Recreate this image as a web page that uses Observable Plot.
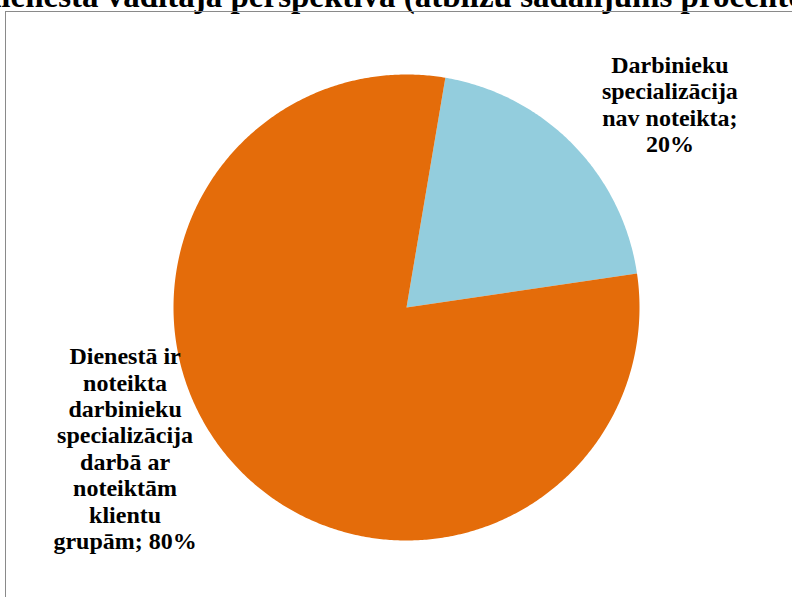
<!DOCTYPE html>
<html>
<head>
<meta charset="utf-8">
<script src="https://cdn.jsdelivr.net/npm/d3@7"></script>
<script src="https://cdn.jsdelivr.net/npm/@observablehq/plot@0.6"></script>
<style>
  html, body { margin: 0; padding: 0; background: #fff; }
  body { width: 792px; height: 597px; position: relative; overflow: hidden; }
  #title {
    position: absolute; left: -17px; top: -22px; white-space: nowrap;
    font-family: "Liberation Serif", "Times New Roman", serif; font-weight: bold;
    font-size: 33px; color: #000; line-height: 36px;
  }
  #frame {
    position: absolute; left: 5px; top: 11px; width: 900px; height: 700px;
    border: 1px solid #8a8a8a; box-sizing: border-box;
  }
  #chart { position: absolute; left: 0; top: 0; }
</style>
</head>
<body>
<div id="title">dienestā vadītāja perspektīva (atbilžu sadalījums procentos)</div>
<div id="frame"></div>
<div id="chart"></div>
<script>
// Data
const categories = [
  "Darbinieku specializācija nav noteikta",
  "Dienestā ir noteikta darbinieku specializācija darbā ar noteiktām klientu grupām"
];
const values = [20, 80];
const labelLines = [
  ["Darbinieku", "specializācija", "nav noteikta;", "20%"],
  ["Dienestā ir", "noteikta", "darbinieku", "specializācija", "darbā ar", "noteiktām", "klientu", "grupām; 80%"]
];
const colors = ["#93CDDD", "#E46C0A"];

// Styles
const firstSliceAngle = 9.6; // degrees, clockwise from north
const W = 792, H = 597;
const cx = 406, cy = 307, R = 233;

const pie = d3.pie().sort(null).value(d => d.value)
  .startAngle(firstSliceAngle * Math.PI / 180)
  .endAngle(firstSliceAngle * Math.PI / 180 + 2 * Math.PI);
const table = categories.map((c, i) => ({category: c, value: values[i], color: colors[i], lines: labelLines[i]}));
const arcs = pie(table);

// polygon points for each slice
const pts = [];
arcs.forEach((a, i) => {
  pts.push({slice: i, x: 0, y: 0});
  const n = Math.max(2, Math.ceil((a.endAngle - a.startAngle) / (Math.PI / 360)));
  for (let k = 0; k <= n; k++) {
    const t = a.startAngle + (a.endAngle - a.startAngle) * k / n;
    pts.push({slice: i, x: Math.sin(t), y: Math.cos(t)});
  }
  pts.push({slice: i, x: 0, y: 0});
});

const labelR = 1.39;
const labels = arcs.map((a, i) => {
  const m = (a.startAngle + a.endAngle) / 2;
  return {x: labelR * Math.sin(m), y: labelR * Math.cos(m), text: a.data.lines.join("\n"), i};
});
const labelOffsets = [[32, 23], [-50, -86]];

const textOpts = {
  fontFamily: "'Liberation Serif', 'Times New Roman', serif",
  fontWeight: "bold", fontSize: 24, lineHeight: 1.1,
  fill: "#000", textAnchor: "middle", lineAnchor: "middle"
};

const plot = Plot.plot({
  width: W, height: H, margin: 0,
  x: {domain: [-1, 1], range: [cx - R, cx + R], axis: null},
  y: {domain: [-1, 1], range: [cy + R, cy - R], axis: null},
  style: {background: "transparent", overflow: "visible"},
  marks: [
    Plot.line(pts, {x: "x", y: "y", z: "slice", fill: d => colors[d.slice], stroke: "none", curve: "linear"}),
    ...labels.map((l, i) => Plot.text([l], {x: "x", y: "y", text: "text", dx: labelOffsets[i][0], dy: labelOffsets[i][1], ...textOpts}))
  ]
});
document.getElementById("chart").appendChild(plot);
</script>
</body>
</html>
